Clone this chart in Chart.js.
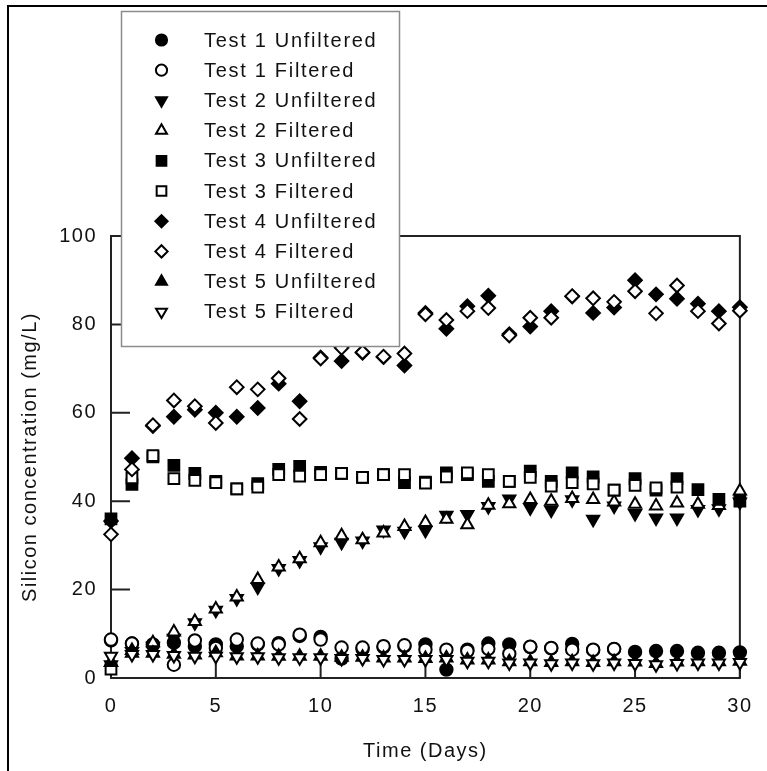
<!DOCTYPE html>
<html>
<head>
<meta charset="utf-8">
<title>Silicon concentration</title>
<script src="https://cdn.jsdelivr.net/npm/chart.js@4.4.1/dist/chart.umd.min.js"></script>
<style>
  html, body { margin: 0; padding: 0; background: #fff; }
  #wrap { position: relative; width: 767px; height: 771px; }
</style>
</head>
<body>
<div id="wrap"><canvas id="chart"></canvas></div>
<script>
/* Silicon concentration vs time, 5 tests, unfiltered / filtered */

const days = [0, 1, 2, 3, 4, 5, 6, 7, 8, 9, 10, 11, 12, 13, 14, 15,
              16, 17, 18, 19, 20, 21, 22, 23, 24, 25, 26, 27, 28, 29, 30];

const test1Unfiltered = [8.5, 7.8, 7.5, 8.0, 7.2, 7.6, 7.2, 7.6, 7.9, 9.5, 9.3, 4.4, 6.5, 7.0, 7.2, 7.6,
                         1.9, 6.4, 7.8, 7.6, 7.0, 6.7, 7.7, 6.3, 6.5, 5.9, 6.1, 6.1, 5.7, 5.7, 5.8];
const test1Filtered   = [8.7, 7.8, 7.6, 3.0, 8.5, 6.8, 8.7, 7.8, 7.6, 9.8, 8.7, 6.9, 6.9, 7.2, 7.4, 6.4,
                         6.4, 6.1, 6.6, 5.5, 7.1, 6.8, 6.4, 6.4, 6.6, null, null, null, null, null, null];
const test2Unfiltered = [3.0, 6.0, 7.2, 9.0, 12.5, 15.3, 18.0, 20.6, 24.8, 26.6, 29.7, 30.7, 31.0, 33.5, 33.2, 33.4,
                         36.8, 37.0, 38.8, 40.5, 38.5, 38.0, 40.3, 35.9, 38.9, 37.2, 36.2, 36.2, 38.1, 38.3, 39.8];
const test2Filtered   = [3.5, 6.2, 8.0, 10.4, 12.8, 15.6, 18.3, 22.3, 25.1, 27.0, 30.6, 32.2, 31.3, 32.8, 34.3, 35.2,
                         35.9, 34.7, 39.1, 39.4, 40.4, 40.0, 40.6, 40.4, 39.8, 39.3, 38.9, 39.6, 39.3, 39.0, 42.3];
const test3Unfiltered = [36.0, 43.8, 50.0, 48.1, 46.3, 44.5, 42.8, 44.0, 47.2, 47.9, 46.5, 46.3, 45.4, 46.0, 44.2, 44.3,
                         46.4, 46.0, 44.5, 44.5, 46.8, 44.5, 46.4, 45.5, 42.5, 45.1, 42.5, 45.1, 42.6, 40.4, 40.0];
const test3Filtered   = [2.0, 45.3, 50.3, 45.1, 44.7, 44.2, 42.8, 43.2, 46.0, 45.7, 46.0, 46.3, 45.4, 46.0, 46.0, 44.1,
                         45.5, 46.4, 46.0, 44.5, 45.4, 43.4, 44.2, 43.9, 42.5, 43.6, 43.0, 43.2, null, null, null];
const test4Unfiltered = [35.5, 49.7, 57.0, 59.1, 60.7, 60.0, 59.1, 61.1, 66.6, 62.6, 72.5, 71.7, 73.6, 72.6, 70.7, 82.6,
                         79.0, 84.1, 86.5, 77.8, 79.5, 83.0, 86.3, 82.6, 83.8, 90.0, 86.8, 85.8, 84.7, 83.0, 83.9];
const test4Filtered   = [32.5, 47.2, 57.2, 62.8, 61.5, 57.7, 65.8, 65.3, 67.8, 58.6, 72.3, 74.7, 73.7, 72.7, 73.4, 82.3,
                         81.0, 83.0, 83.7, 77.5, 81.5, 81.5, 86.4, 85.9, 85.1, 87.5, 82.5, 88.8, 83.0, 80.2, 83.1];
const test5Unfiltered = [3.5, 5.6, 5.6, 5.4, 5.2, 5.7, 5.0, 5.0, 4.9, 4.9, 4.9, 4.7, 4.7, 4.5, 4.5, 4.4,
                         4.5, 4.1, 4.1, 3.7, 3.7, 3.5, 3.7, 3.5, 3.7, 3.6, 3.3, 3.6, 3.7, 3.7, 3.8];
const test5Filtered   = [4.9, 5.3, 5.3, 5.1, 4.9, 4.9, 4.8, 4.8, 4.6, 4.6, 4.6, 4.4, 4.4, 4.2, 4.2, 4.2,
                         4.2, 3.8, 3.8, 3.4, 3.4, 3.2, 3.4, 3.2, 3.4, 3.3, 3.0, 3.3, 3.4, 3.4, 3.5];

const xTicks = [0, 5, 10, 15, 20, 25, 30];
const yTicks = [0, 20, 40, 60, 80, 100];

const FONT = '"Liberation Sans", Arial, Helvetica, sans-serif';
const INK = '#111';

// marker look per series
const series = [
    { label: 'Test 1 Unfiltered', values: test1Unfiltered, style: 'circle',   filled: true,  r: 6.2 },
    { label: 'Test 1 Filtered',   values: test1Filtered,   style: 'circle',   filled: false, r: 6.2 },
    { label: 'Test 2 Unfiltered', values: test2Unfiltered, style: 'triangle', filled: true,  r: 7, rot: 180 },
    { label: 'Test 2 Filtered',   values: test2Filtered,   style: 'triangle', filled: false, r: 7 },
    { label: 'Test 3 Unfiltered', values: test3Unfiltered, style: 'rect',     filled: true,  r: 7.6 },
    { label: 'Test 3 Filtered',   values: test3Filtered,   style: 'rect',     filled: false, r: 7.6 },
    { label: 'Test 4 Unfiltered', values: test4Unfiltered, style: 'rectRot',  filled: true,  r: 6.8 },
    { label: 'Test 4 Filtered',   values: test4Filtered,   style: 'rectRot',  filled: false, r: 6.8 },
    { label: 'Test 5 Unfiltered', values: test5Unfiltered, style: 'triangle', filled: true,  r: 7 },
    { label: 'Test 5 Filtered',   values: test5Filtered,   style: 'triangle', filled: false, r: 7, rot: 180 }
];

const datasets = series.map((s, i) => ({
    label: s.label,
    data: days.map((d, k) => ({ x: d, y: s.values[k] })).filter(p => p.y !== null),
    pointStyle: s.style,
    pointRadius: s.r,
    pointRotation: s.rot || 0,
    pointBackgroundColor: s.filled ? '#000' : '#fff',
    pointBorderColor: '#000',
    pointBorderWidth: 2,
    showLine: false,
    clip: false,
    order: -i   // later series drawn on top, like the original
}));

// fallback marker painter if helpers are not exposed
function paintMarker(ctx, o, x, y) {
    const r = o.radius;
    ctx.beginPath();
    if (o.pointStyle === 'circle') {
        ctx.arc(x, y, r, 0, Math.PI * 2);
    } else if (o.pointStyle === 'rect') {
        const h = r * Math.SQRT1_2;
        ctx.rect(x - h, y - h, 2 * h, 2 * h);
    } else if (o.pointStyle === 'rectRot') {
        ctx.moveTo(x - r, y); ctx.lineTo(x, y - r); ctx.lineTo(x + r, y); ctx.lineTo(x, y + r);
    } else {
        const s = o.rotation === 180 ? -1 : 1;
        ctx.moveTo(x, y - s * r);
        ctx.lineTo(x + r * 0.866, y + s * r / 2);
        ctx.lineTo(x - r * 0.866, y + s * r / 2);
    }
    ctx.closePath();
    ctx.fill();
    ctx.stroke();
}
const drawMarker = (Chart.helpers && Chart.helpers.drawPoint) ? Chart.helpers.drawPoint : paintMarker;

const spacing = {
    id: 'spacing',
    beforeDraw(chart) { chart.ctx.letterSpacing = '1.5px'; }
};

const frame = {
    id: 'frame',
    beforeDatasetsDraw(chart) {
        const { ctx, chartArea: a, scales } = chart;
        ctx.save();
        ctx.strokeStyle = '#222';
        ctx.lineWidth = 2;
        ctx.beginPath();
        scales.x.ticks.forEach(t => {
            const px = scales.x.getPixelForValue(t.value);
            ctx.moveTo(px, a.bottom); ctx.lineTo(px, a.bottom - 15);
        });
        scales.y.ticks.forEach(t => {
            const py = scales.y.getPixelForValue(t.value);
            ctx.moveTo(a.left, py); ctx.lineTo(a.left + 19, py);
        });
        ctx.stroke();
        ctx.strokeRect(a.left, a.top, a.right - a.left, a.bottom - a.top);
        ctx.restore();
    }
};

const legendBox = {
    id: 'legendBox',
    afterDraw(chart) {
        const ctx = chart.ctx;
        ctx.save();
        ctx.fillStyle = '#fff';
        ctx.fillRect(121, 11, 279, 336);
        ctx.strokeStyle = '#8c8c8c';
        ctx.lineWidth = 1.5;
        ctx.strokeRect(121.5, 11.5, 278, 335);

        chart.data.datasets.forEach((ds, i) => {
            const y = 40 + i * 30.2;
            ctx.fillStyle = ds.pointBackgroundColor;
            ctx.strokeStyle = ds.pointBorderColor;
            ctx.lineWidth = 2;
            drawMarker(ctx, { pointStyle: ds.pointStyle, radius: ds.pointRadius * 0.9,
                              rotation: ds.pointRotation, borderWidth: 2 }, 161.5, y);
            ctx.fillStyle = INK;
            ctx.font = '20px ' + FONT;
            ctx.letterSpacing = '1.7px';
            ctx.textBaseline = 'middle';
            ctx.textAlign = 'left';
            ctx.fillText(ds.label, 204, y + 1);
        });

        // page border (left and top edges)
        ctx.strokeStyle = '#000';
        ctx.lineWidth = 2;
        ctx.beginPath();
        ctx.moveTo(8, 771); ctx.lineTo(8, 6); ctx.lineTo(767, 6);
        ctx.stroke();
        ctx.restore();
    }
};

new Chart(document.getElementById('chart'), {
    type: 'scatter',
    data: { datasets },
    plugins: [spacing, frame, legendBox],
    options: {
        responsive: true,
        maintainAspectRatio: false,
        devicePixelRatio: 1,
        animation: false,
        events: [],
        layout: { padding: { top: 236, right: 26, left: 0, bottom: 0 } },
        plugins: { legend: { display: false }, tooltip: { enabled: false } },
        scales: {
            x: {
                type: 'linear', min: 0, max: 30,
                afterBuildTicks: s => { s.ticks = xTicks.map(v => ({ value: v })); },
                afterFit: s => { s.height = 93; },
                grid: { display: false, drawTicks: false, tickLength: 0 },
                border: { display: false },
                ticks: { color: INK, font: { family: FONT, size: 20 }, padding: 16, maxRotation: 0 },
                title: { display: true, text: 'Time (Days)', color: INK,
                         font: { family: FONT, size: 20 }, padding: { top: 0, bottom: 8 } }
            },
            y: {
                type: 'linear', min: 0, max: 100,
                afterBuildTicks: s => { s.ticks = yTicks.map(v => ({ value: v })); },
                afterFit: s => { s.width = 111; },
                grid: { display: false, drawTicks: false, tickLength: 0 },
                border: { display: false },
                ticks: { color: INK, font: { family: FONT, size: 20 }, padding: 14 },
                title: { display: true, text: 'Silicon concentration (mg/L)', color: INK,
                         font: { family: FONT, size: 20 }, padding: { top: 18, bottom: 0 } }
            }
        }
    }
});
</script>
</body>
</html>
